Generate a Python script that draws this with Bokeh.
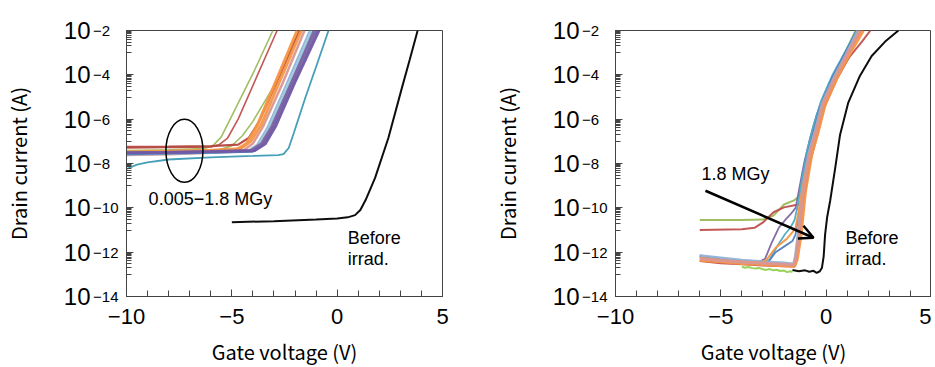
from bokeh.plotting import figure
from bokeh.layouts import row
from bokeh.models import FixedTicker, Arrow, OpenHead, Range1d, LogAxis
from bokeh.core.properties import value
from bokeh.embed import file_html
from bokeh.resources import INLINE

# ---------------- data (x = gate voltage V, y = log10 of drain current A) -------------
# Left panel: before / after irradiation (0.005-1.8 MGy)
L_green1_x = [-10, -8, -6.3, -5.9, -5.5, -5.0, -4.0, -3.05]
L_green1_y = [-7.42, -7.38, -7.32, -7.2, -6.8, -5.85, -3.95, -2.0]
L_red1_x = [-10, -8, -6, -5.6, -5.2, -4.7, -3.8, -2.85]
L_red1_y = [-7.3, -7.28, -7.25, -7.15, -6.85, -6.0, -4.05, -2.0]
L_green2_x = [-10, -8, -5.6, -5.0, -4.5, -4.0, -3.0, -1.75]
L_green2_y = [-7.5, -7.45, -7.38, -7.2, -6.75, -6.1, -4.5, -2.0]
L_orange1_x = [-10, -8, -6, -4.8, -4.3, -3.8, -3.0, -1.9]
L_orange1_y = [-7.55, -7.5, -7.45, -7.38, -7.1, -6.3, -4.5, -2.0]
L_orange2_x = [-10, -8, -6, -4.6, -4.1, -3.6, -2.8, -1.7]
L_orange2_y = [-7.48, -7.45, -7.4, -7.33, -7.0, -6.25, -4.45, -2.0]
L_red2_x = [-10, -8, -6, -4.7, -4.2, -3.7, -2.9, -1.8]
L_red2_y = [-7.25, -7.24, -7.22, -7.15, -6.85, -6.1, -4.4, -2.0]
L_pink_x = [-10, -8, -6, -4.5, -4.0, -3.5, -2.6, -1.55]
L_pink_y = [-7.62, -7.58, -7.52, -7.45, -7.1, -6.3, -4.4, -2.0]
L_ltblue_x = [-10, -8, -6, -4.3, -3.8, -3.3, -2.4, -1.3]
L_ltblue_y = [-7.6, -7.56, -7.52, -7.46, -7.15, -6.35, -4.4, -2.0]
L_aqua_x = [-10, -8, -6, -4.2, -3.7, -3.2, -2.3, -1.2]
L_aqua_y = [-7.55, -7.52, -7.5, -7.44, -7.12, -6.3, -4.4, -2.0]
L_blue_x = [-10, -8, -6, -4.0, -3.6, -3.1, -2.2, -1.05]
L_blue_y = [-7.58, -7.55, -7.52, -7.47, -7.2, -6.4, -4.4, -2.0]
L_purple1_x = [-10, -8, -6, -4.1, -3.6, -3.1, -2.2, -1.1]
L_purple1_y = [-7.5, -7.48, -7.45, -7.4, -7.1, -6.3, -4.4, -2.0]
L_purple2_x = [-10, -8, -6, -4.0, -3.5, -3.0, -2.1, -0.95]
L_purple2_y = [-7.53, -7.5, -7.47, -7.42, -7.12, -6.32, -4.4, -2.0]
L_purple3_x = [-10, -8, -6, -3.9, -3.4, -2.9, -2.0, -0.85]
L_purple3_y = [-7.52, -7.5, -7.47, -7.42, -7.12, -6.3, -4.35, -2.0]
L_teal_x = [-10, -9.5, -9, -8, -6, -4, -2.8, -2.55, -2.3, -2.05, -1.5, -0.95, -0.41]
L_teal_y = [-8.25, -8.05, -7.95, -7.82, -7.72, -7.66, -7.62, -7.58, -7.3, -6.6, -5.0, -3.5, -2.0]
L_before_x = [-5.0, -3.0, -1.0, 0.0, 0.5, 0.85, 1.1, 1.35, 1.8, 2.43, 3.07, 3.45, 3.82]
L_before_y = [-10.65, -10.6, -10.53, -10.48, -10.43, -10.33, -10.1, -9.65, -8.65, -6.85, -4.6, -3.3, -2.0]

# Right panel
R_green_x = [-6, -4, -3.0, -2.5, -2.0, -1.5, -1.3, -1.15, -0.95, -0.65, -0.3, 0.3, 0.8, 1.4]
R_green_y = [-10.55, -10.55, -10.53, -10.35, -9.85, -9.65, -9.5, -8.9, -7.8, -6.7, -5.4, -4.1, -3.2, -2.0]
R_red_x = [-6, -4, -3.4, -3.0, -2.5, -2.0, -1.5, -1.2, -1.0, -0.8, -0.45, -0.1, 0.5, 1.1, 1.7, 2.1]
R_red_y = [-11.0, -10.97, -10.9, -10.66, -10.2, -9.98, -9.88, -9.83, -9.3, -8.1, -6.8, -5.5, -4.2, -3.2, -2.5, -2.0]
R_purple_x = [-6, -5, -4, -3.2, -2.9, -2.6, -2.25, -1.9, -1.7, -1.45, -1.25, -1.05, -0.75, -0.45, -0.1, 0.45, 0.95, 1.5]
R_purple_y = [-12.15, -12.3, -12.38, -12.45, -12.3, -11.6, -10.9, -10.5, -10.3, -10.0, -9.0, -8.0, -6.8, -5.8, -4.9, -3.8, -2.95, -2.0]
R_teal_x = [-6, -5, -4, -3.0, -2.7, -2.3, -1.95, -1.7, -1.5, -1.35, -1.15, -0.9, -0.6, -0.25, 0.3, 0.85, 1.45]
R_teal_y = [-12.2, -12.32, -12.4, -12.47, -12.35, -11.7, -11.18, -10.9, -10.55, -9.9, -8.7, -7.4, -6.3, -5.2, -4.0, -3.05, -2.0]
R_orange_x = [-6, -5, -4, -3.0, -2.8, -2.4, -1.87, -1.6, -1.45, -1.3, -1.1, -0.8, -0.5, -0.15, 0.45, 1.0, 1.6]
R_orange_y = [-12.25, -12.35, -12.42, -12.48, -12.3, -11.8, -11.4, -11.1, -10.9, -10.1, -9.0, -7.6, -6.6, -5.3, -4.05, -3.1, -2.0]
R_blue_x = [-6, -5, -4, -3.0, -2.75, -2.4, -2.0, -1.6, -1.45, -1.3, -1.15, -0.9, -0.6, -0.3, 0.3, 0.85, 1.45]
R_blue_y = [-12.2, -12.3, -12.4, -12.45, -12.45, -12.0, -11.75, -11.5, -11.2, -10.3, -9.2, -7.7, -6.6, -5.5, -4.1, -3.1, -2.0]
R_pink_x = [-6, -5, -4, -3, -2, -1.55, -1.45, -1.3, -1.1, -0.8, -0.5, -0.15, 0.45, 0.95, 1.6]
R_pink_y = [-12.3, -12.38, -12.45, -12.5, -12.55, -12.58, -12.3, -11.2, -9.3, -7.6, -6.6, -5.3, -4.05, -3.15, -2.0]
R_orange2_x = [-6, -5, -4, -3, -2, -1.5, -1.38, -1.2, -1.0, -0.7, -0.4, -0.05, 0.55, 1.05, 1.75]
R_orange2_y = [-12.35, -12.42, -12.5, -12.55, -12.6, -12.62, -12.3, -11.2, -9.3, -7.6, -6.6, -5.3, -4.05, -3.15, -2.0]
R_ltblue_x = [-6, -5, -4, -3, -2, -1.55, -1.47, -1.33, -1.15, -0.85, -0.55, -0.2, 0.4, 0.9, 1.5]
R_ltblue_y = [-12.15, -12.25, -12.35, -12.42, -12.48, -12.52, -12.2, -11.1, -9.2, -7.6, -6.6, -5.3, -4.05, -3.15, -2.0]
R_red2_x = [-6, -5, -4, -3, -2, -1.5, -1.4, -1.25, -1.05, -0.75, -0.45, -0.1, 0.5, 1.0, 1.65]
R_red2_y = [-12.4, -12.5, -12.55, -12.6, -12.63, -12.65, -12.3, -11.2, -9.3, -7.6, -6.6, -5.3, -4.05, -3.15, -2.0]
R_lime_x = [-4.0, -3.85, -3.7, -3.5, -3.35, -3.2, -3.0, -2.85, -2.7, -2.5, -2.35, -2.2, -2.0, -1.85, -1.7, -1.6]
R_lime_y = [-12.66, -12.7, -12.67, -12.72, -12.74, -12.71, -12.77, -12.8, -12.76, -12.82, -12.79, -12.85, -12.83, -12.9, -12.86, -12.9]
R_before_x = [-1.6, -1.3, -1.0, -0.8, -0.6, -0.45, -0.3, -0.2, -0.12, -0.05, 0.05, 0.19, 0.43, 0.66, 1.05, 1.6, 2.16, 2.8, 3.43]
R_before_y = [-12.8, -12.86, -12.82, -12.88, -12.84, -12.93, -12.86, -12.7, -12.2, -11.2, -10.4, -9.68, -8.2, -6.7, -5.25, -4.05, -3.15, -2.5, -2.0]

left_series = [
    (L_green1_x, L_green1_y, "#9BBB59", 1.6),
    (L_red1_x, L_red1_y, "#C0504D", 1.6),
    (L_green2_x, L_green2_y, "#9BBB59", 1.6),
    (L_red2_x, L_red2_y, "#B5473F", 2.2),
    (L_pink_x, L_pink_y, "#D99694", 2.5),
    (L_orange1_x, L_orange1_y, "#F79646", 3.0),
    (L_orange2_x, L_orange2_y, "#F79646", 3.0),
    (L_ltblue_x, L_ltblue_y, "#95B3D7", 2.0),
    (L_aqua_x, L_aqua_y, "#93CDDD", 2.0),
    (L_blue_x, L_blue_y, "#4F81BD", 2.0),
    (L_purple1_x, L_purple1_y, "#8064A2", 2.5),
    (L_purple2_x, L_purple2_y, "#7A5FA0", 2.5),
    (L_purple3_x, L_purple3_y, "#6E5AA8", 2.5),
    (L_teal_x, L_teal_y, "#3B9AB2", 1.8),
    (L_before_x, L_before_y, "black", 2.0),
]
right_series = [
    (R_lime_x, R_lime_y, "#92D050", 2.0),
    (R_green_x, R_green_y, "#9BBB59", 2.0),
    (R_red_x, R_red_y, "#C0504D", 2.0),
    (R_purple_x, R_purple_y, "#8064A2", 1.8),
    (R_teal_x, R_teal_y, "#4BACC6", 1.8),
    (R_blue_x, R_blue_y, "#4F81BD", 1.8),
    (R_red2_x, R_red2_y, "#C0504D", 2.0),
    (R_ltblue_x, R_ltblue_y, "#95B3D7", 2.5),
    (R_orange_x, R_orange_y, "#F79646", 2.0),
    (R_orange2_x, R_orange2_y, "#F79646", 3.5),
    (R_pink_x, R_pink_y, "#D99694", 3.0),
    (R_before_x, R_before_y, "black", 2.0),
]

x_major = [-10, -5, 0, 5]
x_labels = ["\u221210", "\u22125", "0", "5"]
y_exponents = [-2, -4, -6, -8, -10, -12, -14]
# exponent strings; single-digit ones padded with a figure space so they start right after "10"
y_exp_labels = ["\u22122\u2007", "\u22124\u2007", "\u22126\u2007", "\u22128\u2007",
                "\u221210", "\u221212", "\u221214"]

# annotations (data coordinates, log10 for y)
ellipse_xy = (-7.25, -7.43)
left_range_text = ("0.005\u22121.8 MGy", -8.95, -9.6)
left_before_text = [("Before", 0.5, -11.35), ("irrad.", 0.5, -12.3)]
right_dose_text = ("1.8 MGy", -5.92, -8.46)
right_before_text = [("Before", 0.92, -11.35), ("irrad.", 0.92, -12.3)]
arrow_xy = (-5.73, -9.23, -0.6, -11.35)

TICK_FONT = "Liberation Sans"
LABEL_FONT = "Noto Sans CJK JP"
FRAME_W, FRAME_H = 316, 266
TOP, BOTTOM = 30, 71


def make_fig(border_left, border_right):
    p = figure(x_range=Range1d(-10, 5), y_range=Range1d(1e-14, 1e-2), y_axis_type="log",
               frame_width=FRAME_W, frame_height=FRAME_H,
               min_border_left=border_left, min_border_right=border_right,
               min_border_top=TOP, min_border_bottom=BOTTOM,
               output_backend="svg", toolbar_location=None)
    p.grid.visible = False
    p.outline_line_color = "#444444"
    p.outline_line_width = 1
    p.background_fill_color = "white"
    p.border_fill_color = "white"

    p.xaxis.ticker = FixedTicker(ticks=x_major, minor_ticks=list(range(-10, 6)))
    p.xaxis.major_label_overrides = {v: s for v, s in zip(x_major, x_labels)}
    yt_major = [10.0 ** e for e in y_exponents]
    yt_minor = [k * 10.0 ** (e - 1) for e in y_exponents if e > -14 for k in range(1, 10)]
    p.yaxis.ticker = FixedTicker(ticks=yt_major, minor_ticks=yt_minor)
    # inner axis carries the exponents
    p.yaxis.major_label_overrides = {10.0 ** e: s for e, s in zip(y_exponents, y_exp_labels)}

    for ax in (p.xaxis, p.yaxis):
        ax.axis_line_color = "#444444"
        ax.major_tick_line_color = "#444444"
        ax.minor_tick_line_color = "#444444"
        ax.major_tick_in = 7
        ax.major_tick_out = 0
        ax.minor_tick_in = 6
        ax.minor_tick_out = 0
        ax.major_label_text_font = TICK_FONT
        ax.major_label_text_font_size = "22px"
        ax.major_label_text_color = "black"
        ax.axis_label_text_font = LABEL_FONT
        ax.axis_label_text_font_size = "20px"
        ax.axis_label_text_font_style = "normal"
        ax.axis_label_text_color = "black"
    p.yaxis.minor_tick_in = 5
    p.yaxis.major_label_text_font_size = "15px"
    p.yaxis.major_label_standoff = 8
    p.xaxis.major_label_standoff = 12
    p.xaxis.axis_label = "Gate voltage (V)"
    p.xaxis.axis_label_standoff = 10

    # outer axis carries the "10" mantissa and the axis title
    outer = LogAxis(ticker=FixedTicker(ticks=yt_major, minor_ticks=[]),
                    major_label_overrides={10.0 ** e: "10" for e in y_exponents},
                    axis_line_color=None, major_tick_line_color=None,
                    minor_tick_line_color=None, major_tick_in=0, major_tick_out=0,
                    major_label_standoff=0,
                    major_label_text_font=TICK_FONT, major_label_text_font_size="24px",
                    major_label_text_color="black",
                    axis_label="Drain current (A)", axis_label_text_font=LABEL_FONT,
                    axis_label_text_font_size="20px", axis_label_text_font_style="normal",
                    axis_label_text_color="black", axis_label_standoff=28)
    p.add_layout(outer, "left")
    return p


def draw(p, series):
    for xs, ys, color, lw in series:
        p.line(xs, [10.0 ** v for v in ys], line_color=color, line_width=lw, line_alpha=0.95)


def put_text(p, items, size="18px"):
    for t, x, y in items:
        p.text(x=[x], y=[10.0 ** y], text=[t], text_font=value(TICK_FONT),
               text_font_size=size, text_baseline="middle", text_align="left",
               text_color="black")


left = make_fig(123, 30)
draw(left, left_series)
left.ellipse(x=[ellipse_xy[0]], y=[10.0 ** ellipse_xy[1]], width=37, height=63,
             width_units="screen", height_units="screen",
             fill_color=None, line_color="black", line_width=1.5)
put_text(left, [left_range_text])
put_text(left, left_before_text)

right = make_fig(612 - (123 + FRAME_W + 30), 0)
draw(right, right_series)
put_text(right, [right_dose_text])
put_text(right, right_before_text)
ax0, ay0, ax1, ay1 = arrow_xy
right.add_layout(Arrow(x_start=ax0, y_start=10.0 ** ay0, x_end=ax1, y_end=10.0 ** ay1,
                       line_width=2.5, line_color="black",
                       end=OpenHead(size=14, line_width=2.5, line_color="black")))

layout = row(left, right)
open("out.html", "w").write(file_html(layout, INLINE))
